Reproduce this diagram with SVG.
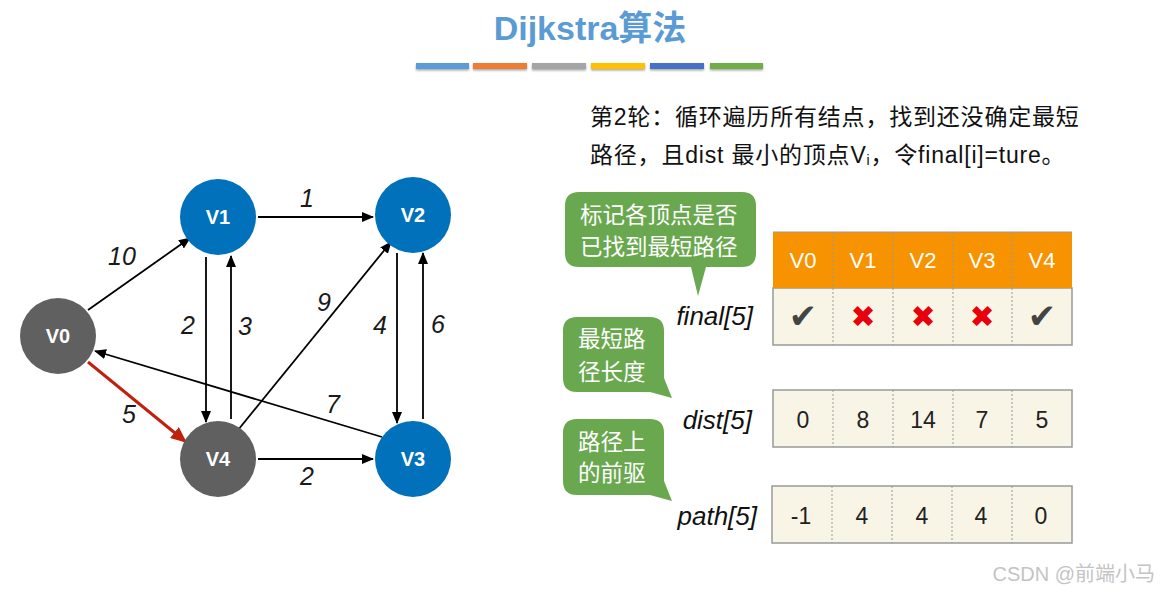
<svg xmlns="http://www.w3.org/2000/svg" width="1160" height="593" viewBox="0 0 1160 593">
<style>
.cjk{font-family:"Liberation Sans","Noto Sans CJK SC",sans-serif}
.w{fill:#1a1a1a;font-style:italic;font-size:25px;text-anchor:middle;font-family:"Liberation Sans",sans-serif}
.nl{fill:#fff;font-size:20px;font-weight:bold;text-anchor:middle;font-family:"Liberation Sans",sans-serif}
.blue{fill:#0071BA}
.gray{fill:#606060}
.edge{stroke:#000;stroke-width:1.8;fill:none;marker-end:url(#ah)}
.red{stroke:#C0200E;stroke-width:3;fill:none;marker-end:url(#ahr)}
.callout{fill:#6AA84F}
.ct{fill:#fff;font-size:22.5px;font-family:"Noto Sans CJK SC",sans-serif}
.hdr{fill:#F79200}
.row{fill:#F8F5E7;stroke:#999;stroke-width:1.5}
.div{stroke:#999;stroke-width:1;stroke-dasharray:2,2}
.ht{fill:#fff;font-size:22px;text-anchor:middle;font-family:"Liberation Sans",sans-serif}
.val{fill:#222;font-size:23px;text-anchor:middle;font-family:"Liberation Sans",sans-serif}
.lab{fill:#111;font-size:26px;font-style:italic;text-anchor:end;font-family:"Liberation Sans",sans-serif}
.ok{fill:#444;font-size:34px;text-anchor:middle;font-family:"DejaVu Sans",sans-serif}
.no{fill:#E8000A;font-size:30px;text-anchor:middle;font-family:"DejaVu Sans",sans-serif}
</style>
<defs>
<marker id="ah" markerWidth="12" markerHeight="10" refX="11" refY="5" orient="auto" markerUnits="userSpaceOnUse">
<path d="M0,0 L12,5 L0,10 Z" fill="#000"/>
</marker>
<marker id="ahr" markerWidth="16" markerHeight="14" refX="15" refY="7" orient="auto" markerUnits="userSpaceOnUse">
<path d="M0,0 L16,7 L0,14 Z" fill="#C0200E"/>
</marker>
<filter id="sh" x="-10%" y="-50%" width="120%" height="250%">
<feDropShadow dx="0" dy="1.5" stdDeviation="1" flood-color="#000" flood-opacity="0.35"/>
</filter>
</defs>
<rect width="1160" height="593" fill="#fff"/>

<g id="title">
<text x="590" y="40" text-anchor="middle" font-size="34" font-weight="bold" fill="#5B9BD5" font-family="Liberation Sans,Noto Sans CJK SC,sans-serif">Dijkstra算法</text>
<g filter="url(#sh)">
<rect x="416" y="63" width="53" height="6" fill="#5B9BD5"/>
<rect x="473" y="63" width="54" height="6" fill="#ED7D31"/>
<rect x="532" y="63" width="54" height="6" fill="#A5A5A5"/>
<rect x="591" y="63" width="54" height="6" fill="#FFC000"/>
<rect x="650" y="63" width="54" height="6" fill="#4472C4"/>
<rect x="710" y="63" width="53" height="6" fill="#70AD47"/>
</g>
</g>

<g id="description" class="cjk" font-size="23" fill="#111">
<text x="590" y="125" letter-spacing="0.8">第2轮：循环遍历所有结点，找到还没确定最短</text>
<text x="590" y="163" letter-spacing="0.8">路径，且dist 最小的顶点V<tspan font-size="14" dy="2">i</tspan><tspan dy="-2">，令final[i]=ture。</tspan></text>
</g>

<g id="connectors">
<line class="edge" x1="88" y1="310" x2="190" y2="238"/>
<line class="edge" x1="258" y1="217" x2="373" y2="217"/>
<line class="edge" x1="206" y1="257" x2="206" y2="422"/>
<line class="edge" x1="231" y1="419" x2="231" y2="256"/>
<line class="edge" x1="238" y1="430" x2="391" y2="242"/>
<line class="edge" x1="397" y1="253" x2="397" y2="423"/>
<line class="edge" x1="423" y1="419" x2="423" y2="253"/>
<line class="edge" x1="382" y1="437" x2="95" y2="351"/>
<line class="edge" x1="258" y1="459" x2="373" y2="459"/>
<line class="red" x1="88" y1="362" x2="186" y2="442"/>
<text class="w" x="122" y="265">10</text>
<text class="w" x="307" y="207">1</text>
<text class="w" x="188" y="334">2</text>
<text class="w" x="245" y="335">3</text>
<text class="w" x="324" y="311">9</text>
<text class="w" x="380" y="334">4</text>
<text class="w" x="438" y="333">6</text>
<text class="w" x="333" y="413">7</text>
<text class="w" x="129" y="423">5</text>
<text class="w" x="307" y="485">2</text>
</g>

<g id="V0"><circle class="gray" cx="58" cy="336" r="38"/><text class="nl" x="58" y="343">V0</text></g>
<g id="V1"><circle class="blue" cx="218" cy="217" r="38"/><text class="nl" x="218" y="224">V1</text></g>
<g id="V2"><circle class="blue" cx="413" cy="215" r="38"/><text class="nl" x="413" y="222">V2</text></g>
<g id="V3"><circle class="blue" cx="413" cy="459" r="38"/><text class="nl" x="413" y="466">V3</text></g>
<g id="V4"><circle class="gray" cx="218" cy="459" r="38"/><text class="nl" x="218" y="466">V4</text></g>

<g id="callout1">
<path class="callout" d="M579,192 H742 Q756,192 756,206 V253 Q756,267 742,267 H706 L698,296 L691,267 H579 Q565,267 565,253 V206 Q565,192 579,192 Z"/>
<text class="ct" x="580" y="223">标记各顶点是否</text>
<text class="ct" x="580" y="255">已找到最短路径</text>
</g>
<g id="callout2">
<path class="callout" d="M577,317 H650 Q664,317 664,331 V378 L672,398 L650,392 H577 Q563,392 563,378 V331 Q563,317 577,317 Z"/>
<text class="ct" x="578" y="347">最短路</text>
<text class="ct" x="578" y="380">径长度</text>
</g>
<g id="callout3">
<path class="callout" d="M577,419 H650 Q664,419 664,433 V481 L672,501 L650,495 H577 Q563,495 563,481 V433 Q563,419 577,419 Z"/>
<text class="ct" x="578" y="450">路径上</text>
<text class="ct" x="578" y="481">的前驱</text>
</g>

<g id="final-table">
<rect class="row" x="773" y="288" width="299" height="57"/>
<rect class="hdr" x="773" y="232" width="299" height="56"/>
<line x1="773" y1="232" x2="1072" y2="232" stroke="#999" stroke-width="1"/>
<g class="div">
<line x1="833" y1="232" x2="833" y2="345"/><line x1="893" y1="232" x2="893" y2="345"/><line x1="953" y1="232" x2="953" y2="345"/><line x1="1012" y1="232" x2="1012" y2="345"/>
</g>
<text class="ht" x="803" y="268">V0</text><text class="ht" x="863" y="268">V1</text><text class="ht" x="923" y="268">V2</text><text class="ht" x="982" y="268">V3</text><text class="ht" x="1042" y="268">V4</text>
<text class="ok" x="803" y="328">✔</text>
<text class="no" x="863" y="327">✖</text>
<text class="no" x="923" y="327">✖</text>
<text class="no" x="982" y="327">✖</text>
<text class="ok" x="1042" y="328">✔</text>
<text class="lab" x="753" y="325">final[5]</text>
</g>

<g id="dist-table">
<rect class="row" x="773" y="390" width="299" height="57"/>
<g class="div">
<line x1="833" y1="390" x2="833" y2="447"/><line x1="893" y1="390" x2="893" y2="447"/><line x1="953" y1="390" x2="953" y2="447"/><line x1="1012" y1="390" x2="1012" y2="447"/>
</g>
<text class="val" x="803" y="428">0</text><text class="val" x="863" y="428">8</text><text class="val" x="923" y="428">14</text><text class="val" x="982" y="428">7</text><text class="val" x="1042" y="428">5</text>
<text class="lab" x="752" y="429">dist[5]</text>
</g>

<g id="path-table">
<rect class="row" x="772" y="486" width="300" height="57"/>
<g class="div">
<line x1="832" y1="486" x2="832" y2="543"/><line x1="892" y1="486" x2="892" y2="543"/><line x1="952" y1="486" x2="952" y2="543"/><line x1="1012" y1="486" x2="1012" y2="543"/>
</g>
<text class="val" x="801" y="524">-1</text><text class="val" x="862" y="524">4</text><text class="val" x="922" y="524">4</text><text class="val" x="981" y="524">4</text><text class="val" x="1041" y="524">0</text>
<text class="lab" x="757" y="525">path[5]</text>
</g>

<g id="watermark">
<text x="1155" y="581" text-anchor="end" font-size="20" fill="#c4c4c4" font-family="Liberation Sans,Noto Sans CJK SC,sans-serif">CSDN @前端小马</text>
</g>
</svg>
